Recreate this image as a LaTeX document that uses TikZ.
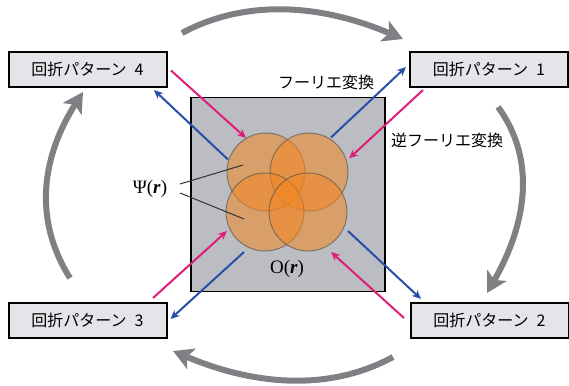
\documentclass[tikz,border=0pt]{standalone}
\usepackage{fontspec}
\setmainfont{Liberation Serif}
\newfontfamily\jpfont{Noto Sans CJK JP}
\usetikzlibrary{arrows.meta}

\definecolor{boxgray}{RGB}{228,229,233}
\definecolor{objgray}{RGB}{187,189,194}
\definecolor{cyclegray}{RGB}{128,128,132}
\definecolor{ftblue}{RGB}{38,80,168}
\definecolor{ftpink}{RGB}{222,30,120}
\definecolor{probeorange}{RGB}{242,135,35}

\begin{document}
\begin{tikzpicture}[x=1pt, y=1pt,
	% Define the styles
	diffbox/.style={draw, line width=2pt, fill=boxgray, minimum width=158pt, minimum height=35pt, inner sep=0pt, font=\jpfont\fontsize{16}{16}\selectfont},
	probe/.style={circle, minimum size=78pt, inner sep=0pt, fill=probeorange, fill opacity=0.55, draw=black!70, draw opacity=0.6, line width=1pt},
	jplabel/.style={inner sep=0pt, font=\jpfont\fontsize{16}{16}\selectfont},
	mathlabel/.style={inner sep=0pt, font=\fontsize{19}{19}\selectfont},
	ft/.style={ftblue, line width=2pt, -{Stealth[length=9pt, width=8pt]}},
	ift/.style={ftpink, line width=2pt, -{Stealth[length=9pt, width=8pt]}},
	cycle/.style={cyclegray, line width=6pt, -{Stealth[length=20pt, width=22pt, inset=5pt]}}
	]
	\useasboundingbox (0,0) rectangle (569,385);
	
	% --- OBJECT ---
	\node (obj) at (288,190.5) [draw, line width=1.5pt, fill=objgray, minimum size=194pt, inner sep=0pt] {};
	
	\node (p1) at (266,213) [probe] {};
	\node (p2) at (309,213) [probe] {};
	\node (p3) at (265,173) [probe] {};
	\node (p4) at (308,173) [probe] {};
	
	\node (psi) at (150,196) [mathlabel] {Ψ(\textbf{\textit{r}})};
	\node (obr) at (287,116) [mathlabel] {O(\textbf{\textit{r}})};
	
	\coordinate (psia) at (180,201);
	\coordinate (psib) at (180,192);
	\coordinate (in1) at (243,220);
	\coordinate (in3) at (244,166);
	\draw[black!80, line width=1pt] (psia) -- (in1);
	\draw[black!80, line width=1pt] (psib) -- (in3);
	
	% --- DIFFRACTION PATTERNS ---
	\node (d4) at (87.5,315.5) [diffbox] {回折パターン\hspace{0.5em}4};
	\node (d1) at (489,315.5)  [diffbox] {回折パターン\hspace{0.5em}1};
	\node (d3) at (87.5,64.5)  [diffbox] {回折パターン\hspace{0.5em}3};
	\node (d2) at (489.5,64.5) [diffbox] {回折パターン\hspace{0.5em}2};
	
	\node (ftl)  at (326,303) [jplabel] {フーリエ変換};
	\node (iftl) at (447,245) [jplabel] {逆フーリエ変換};
	
	% --- FOURIER ARROWS ---
	% Format: start point of blue (ft) and pink (ift) arrows, then tip
	\coordinate (ft1s) at (331,247.5);  \coordinate (ft1e) at (406,318);
	\coordinate (ift1s) at (423,295);   \coordinate (ift1e) at (349,226.5);
	\coordinate (ft2s) at (348,154);    \coordinate (ft2e) at (421,86);
	\coordinate (ift2s) at (404,67);    \coordinate (ift2e) at (331,133);
	\coordinate (ift3s) at (153,87);    \coordinate (ift3e) at (227,154);
	\coordinate (ft3s) at (244,133);    \coordinate (ft3e) at (170.5,66);
	\coordinate (ift4s) at (171,314.5); \coordinate (ift4e) at (246,247);
	\coordinate (ft4s) at (228,225.5);  \coordinate (ft4e) at (154,295);
	
	\draw[ft] (ft1s) -- (ft1e);
	\draw[ift] (ift1s) -- (ift1e);
	\draw[ft] (ft2s) -- (ft2e);
	\draw[ift] (ift2s) -- (ift2e);
	\draw[ift] (ift3s) -- (ift3e);
	\draw[ft] (ft3s) -- (ft3e);
	\draw[ift] (ift4s) -- (ift4e);
	\draw[ft] (ft4s) -- (ft4e);
	
	% --- CYCLE ---
	\coordinate (c41) at (182,352); \coordinate (c14) at (403,346);
	\coordinate (c12) at (498,278); \coordinate (c21) at (487,92);
	\coordinate (c23) at (393,28);  \coordinate (c32) at (173,34);
	\coordinate (c34) at (70,107);  \coordinate (c43) at (83,293);
	
	\draw[cycle] (c41) .. controls (243,384.7) and (316.7,382.7) .. (c14);
	\draw[cycle] (c12) .. controls (533.7,229.3) and (530,167.3) .. (c21);
	\draw[cycle] (c23) .. controls (333,-4.7) and (259.7,-2.7) .. (c32);
	\draw[cycle] (c34) .. controls (35,162.3) and (39.3,224.3) .. (c43);
	
\end{tikzpicture}
\end{document}
